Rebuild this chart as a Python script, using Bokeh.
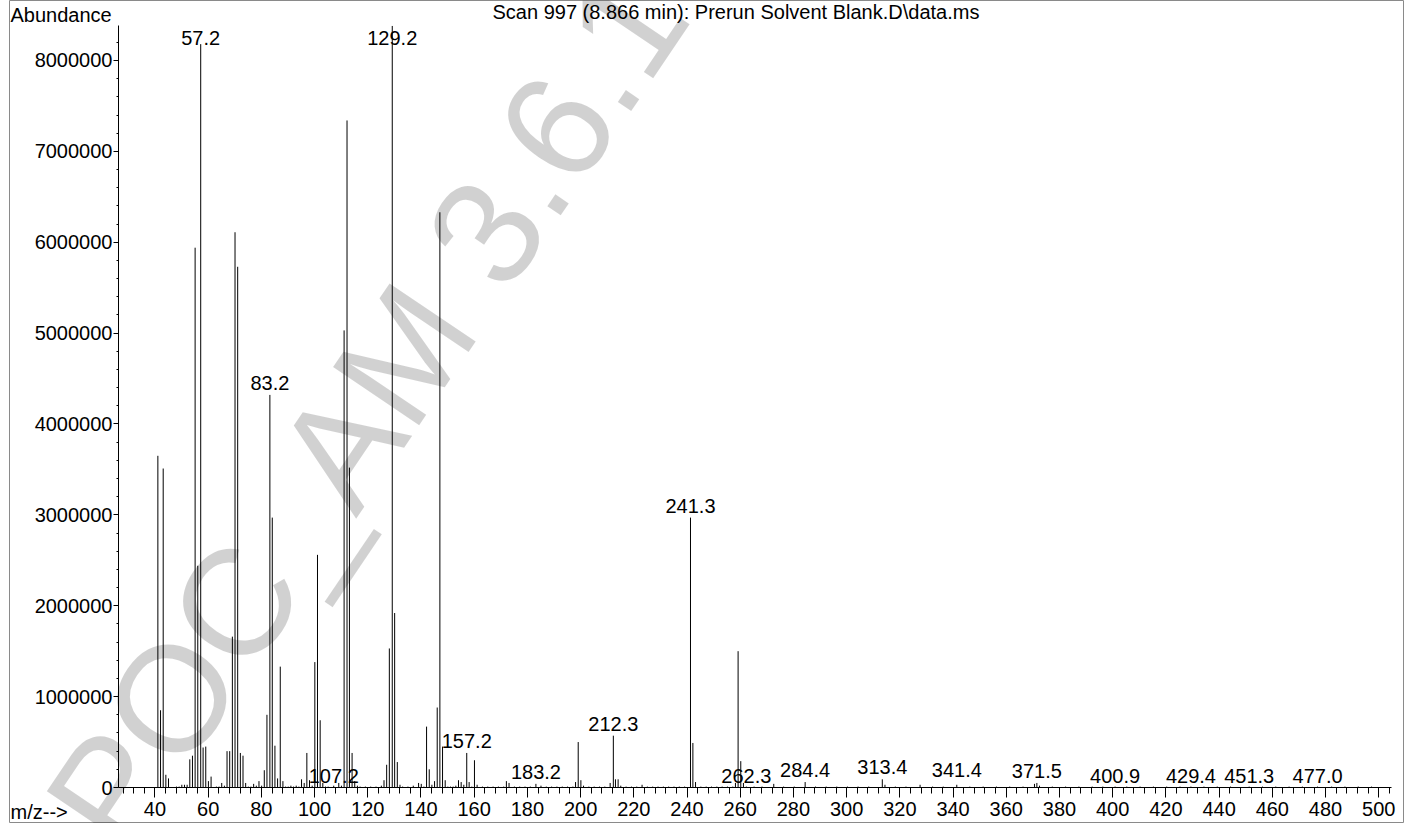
import numpy as np
from bokeh.plotting import figure
from bokeh.models import Range1d, SingleIntervalTicker, BasicTickFormatter, Label
from bokeh.embed import file_html
from bokeh.resources import INLINE
from bokeh.core.properties import value

# ---- data ----
mz = [41.1, 42.1, 43.1, 44.1, 45.1, 48.1, 49.1, 50.1, 51.1, 52.1,
      53.1, 54.1, 55.1, 56.1, 57.2, 58.1, 59.1, 60.1, 61.1, 63.1,
      64.1, 65.1, 66.1, 67.1, 68.1, 69.1, 70.1, 71.1, 72.1, 73.1,
      74.1, 75.1, 76.1, 77.1, 78.1, 79.1, 80.1, 81.1, 82.1, 83.2,
      84.1, 85.1, 86.1, 87.1, 88.1, 89.1, 90.1, 91.1, 92.1, 93.1,
      94.1, 95.1, 96.1, 97.1, 98.1, 99.1, 100.1, 101.1, 102.1, 103.1,
      104.1, 105.1, 107.2, 109.1, 110.1, 111.1, 112.2, 113.1, 114.1, 115.1,
      116.1, 117.1, 119.1, 121.1, 123.1, 125.1, 126.1, 127.1, 128.1, 129.2,
      130.1, 131.1, 132.1, 133.1, 135.1, 137.1, 139.1, 140.1, 141.1, 142.1,
      143.1, 144.1, 145.1, 146.1, 147.1, 148.1, 149.1, 150.1, 151.1, 152.1,
      153.1, 154.1, 155.1, 156.1, 157.2, 158.1, 159.1, 160.1, 161.1, 163.1,
      165.1, 167.1, 169.1, 171.1, 172.1, 173.1, 175.1, 177.1, 179.1, 181.1,
      183.2, 185.1, 187.1, 189.1, 191.1, 193.1, 195.1, 197.1, 198.1, 199.1,
      200.1, 201.1, 203.1, 205.1, 207.1, 209.1, 211.1, 212.3, 213.1, 214.1,
      215.1, 217.1, 219.1, 221.1, 223.1, 225.1, 227.1, 229.1, 231.1, 233.1,
      235.1, 237.1, 239.1, 241.3, 242.2, 243.2, 245.2, 247.2, 249.2, 251.2,
      253.2, 255.2, 257.2, 258.2, 259.2, 260.2, 261.2, 262.3, 265.2, 268.2,
      272.6, 276.3, 280.3, 284.4, 288.3, 292.3, 296.3, 300.3, 304.3, 308.3,
      313.4, 314.4, 318.3, 322.3, 327.6, 332.3, 336.3, 341.4, 346.3, 351.3,
      356.3, 361.3, 366.3, 370.6, 371.5, 372.5, 377.3, 382.3, 387.3, 392.3,
      396.3, 400.9, 405.3, 410.3, 415.3, 420.3, 425.3, 429.4, 434.3, 439.3,
      444.3, 451.3, 456.3, 461.3, 466.3, 471.3, 477.0, 482.3, 487.3, 492.3,
      497.3]
abundance = [3650000, 850000, 3510000, 140000, 100000, 10000, 10000, 30000, 30000, 30000,
             310000, 350000, 5940000, 2440000, 8180000, 440000, 450000, 70000, 120000, 10000,
             10000, 50000, 20000, 400000, 400000, 1660000, 6110000, 5730000, 380000, 350000,
             50000, 10000, 10000, 40000, 20000, 70000, 20000, 190000, 800000, 4320000,
             2970000, 460000, 100000, 1330000, 70000, 10000, 10000, 20000, 10000, 20000,
             10000, 90000, 50000, 380000, 80000, 20000, 1380000, 2560000, 740000, 50000,
             10000, 10000, 20000, 50000, 20000, 5030000, 7340000, 3520000, 380000, 70000,
             20000, 10000, 10000, 10000, 10000, 20000, 80000, 250000, 1530000, 8380000,
             1920000, 280000, 30000, 10000, 10000, 20000, 50000, 40000, 10000, 670000,
             200000, 30000, 70000, 880000, 6330000, 450000, 80000, 10000, 10000, 10000,
             20000, 80000, 60000, 30000, 380000, 60000, 10000, 300000, 30000, 10000,
             10000, 10000, 10000, 10000, 70000, 50000, 10000, 10000, 10000, 10000,
             40000, 20000, 10000, 10000, 10000, 10000, 10000, 10000, 60000, 500000,
             80000, 20000, 10000, 10000, 10000, 10000, 50000, 570000, 90000, 90000,
             20000, 10000, 10000, 10000, 30000, 10000, 10000, 10000, 10000, 10000,
             10000, 10000, 10000, 2970000, 490000, 60000, 10000, 10000, 10000, 10000,
             10000, 10000, 10000, 50000, 1500000, 290000, 50000, 10000, 10000, 10000,
             40000, 10000, 10000, 60000, 10000, 10000, 10000, 10000, 10000, 10000,
             90000, 30000, 10000, 10000, 30000, 10000, 10000, 30000, 10000, 10000,
             10000, 10000, 10000, 40000, 50000, 20000, 10000, 10000, 10000, 10000,
             10000, 10000, 10000, 10000, 10000, 10000, 10000, 10000, 10000, 10000,
             10000, 10000, 10000, 10000, 10000, 10000, 10000, 10000, 10000, 10000,
             10000]

label_mz = [57.2, 129.2, 83.2, 107.2, 157.2, 183.2, 212.3, 241.3, 262.3,
            284.4, 313.4, 341.4, 371.5, 400.9, 429.4, 451.3, 477.0]
label_abundance = [8180000, 8380000, 4320000, 0, 380000, 40000, 570000, 2970000, 0,
                   60000, 90000, 60000, 50000, 0, 0, 0, 0]
label_text = ["57.2", "129.2", "83.2", "107.2", "157.2", "183.2", "212.3", "241.3", "262.3",
              "284.4", "313.4", "341.4", "371.5", "400.9", "429.4", "451.3", "477.0"]

title_text = "Scan 997 (8.866 min): Prerun Solvent Blank.D\\data.ms"
y_title = "Abundance"
x_title = "m/z-->"
watermark = "POC_AM 3.6.1"

FONT = "Liberation Sans"

# axis extents (data) and where the plotting box sits on the page (px)
X_LO, X_HI, Y_HI = 26.3, 504.8, 8.385e6
W, H, OFF_X = 1395, 823, 9
BOX_L, BOX_R, BOX_T, BOX_B = 118, 1391, 25, 787
kx = (BOX_R - BOX_L) / (X_HI - X_LO)
ky = (BOX_B - BOX_T) / Y_HI
x_start = X_LO - (BOX_L - OFF_X) / kx
x_end = X_HI + (OFF_X + W - BOX_R) / kx
y_start = -(H - BOX_B) / ky
y_end = Y_HI + BOX_T / ky

p = figure(width=W, height=H, output_backend="svg", toolbar_location=None,
           x_range=Range1d(x_start, x_end), y_range=Range1d(y_start, y_end),
           min_border=0, min_border_left=0, min_border_right=0,
           min_border_top=0, min_border_bottom=0)
p.styles = {"margin-left": "%dpx" % OFF_X}
p.outline_line_color = "#8a8a8a"
p.outline_line_width = 1
p.xgrid.visible = False
p.ygrid.visible = False
p.background_fill_color = "white"
p.border_fill_color = "white"

# screen units are measured from the frame's bottom-left (page px -> screen)
def sx(px):
    return px - OFF_X
def sy(py):
    return H - py

p.segment(x0=mz, y0=0, x1=mz, y1=abundance, line_color="black", line_width=1)

lab_y = np.minimum(np.array(label_abundance, dtype=float), 8.12e6)
p.text(x=label_mz, y=lab_y, text=label_text, text_align="center",
       text_baseline="middle", y_offset=-12, text_font=value(FONT),
       text_font_size="20px", text_color="black")

xa = p.xaxis[0]
xa.fixed_location = 0
xa.bounds = (X_LO, X_HI)
xa.ticker = SingleIntervalTicker(interval=20, num_minor_ticks=5)
xa.major_tick_in = 0
xa.major_tick_out = 10
xa.minor_tick_in = 0
xa.minor_tick_out = 6
xa.major_label_standoff = 4
ya = p.yaxis[0]
ya.fixed_location = X_LO
ya.bounds = (0, Y_HI)
ya.ticker = SingleIntervalTicker(interval=1000000, num_minor_ticks=5)
ya.formatter = BasicTickFormatter(use_scientific=False)
ya.major_tick_in = 0
ya.major_tick_out = 5
ya.minor_tick_in = 0
ya.minor_tick_out = 2
ya.major_label_standoff = 1
for ax in (xa, ya):
    ax.axis_line_color = "black"
    ax.major_tick_line_color = "black"
    ax.minor_tick_line_color = "black"
    ax.major_label_text_font = FONT
    ax.major_label_text_font_size = "20px"
    ax.major_label_text_color = "black"

def text_label(txt, px, py, align="left"):
    return Label(x=sx(px), y=sy(py), x_units="screen", y_units="screen", text=txt,
                 text_font=FONT, text_font_size="20px", text_align=align,
                 text_baseline="middle", text_color="black")

p.add_layout(text_label(y_title, 10, 14))
p.add_layout(text_label(title_text, 492, 11.5))
p.add_layout(text_label(x_title, 10, 811))

# translucent watermark drawn over the spectrum (grey on white, bars stay dark)
wm = Label(x=sx(82), y=sy(830), x_units="screen", y_units="screen", text=watermark,
           angle=56, angle_units="deg", text_font=FONT, text_font_size="151px",
           text_baseline="middle", text_color="black", text_alpha=0.18)
p.add_layout(wm)

open("out.html", "w").write(file_html(p, INLINE))
